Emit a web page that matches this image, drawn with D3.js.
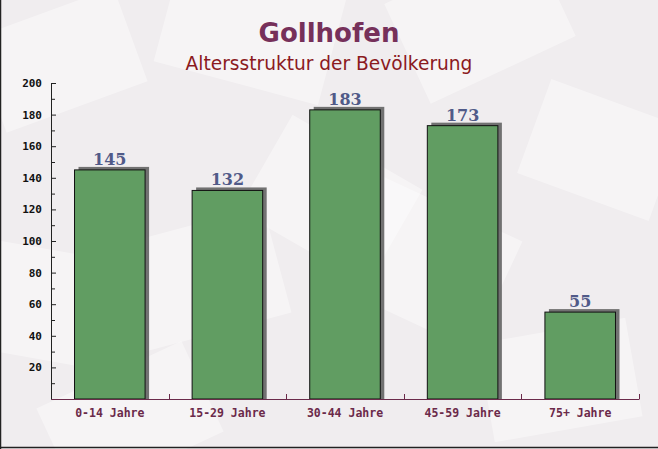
<!DOCTYPE html>
<html>
<head>
<meta charset="utf-8">
<script src="https://cdn.jsdelivr.net/npm/d3@7"></script>
<style>
  body { margin: 0; }
  svg { display: block; }
</style>
</head>
<body>
<div id="chart"></div>
<script>
const categories = ["0-14 Jahre", "15-29 Jahre", "30-44 Jahre", "45-59 Jahre", "75+ Jahre"]
const values = [145, 132, 183, 173, 55]
const yTicks = [20, 40, 60, 80, 100, 120, 140, 160, 180, 200]
const title = "Gollhofen"
const subtitle = "Altersstruktur der Bevölkerung"

const W = 658, H = 449
let margin = {top: 83, right: 19, bottom: 50, left: 51},
    width = W - margin.left - margin.right,
    height = H - margin.top - margin.bottom

let svg = d3.select("#chart")
            .append('svg')
            .attr('width', W)
            .attr('height', H)

// background with faint paper shapes
svg.append('rect').attr('width', W).attr('height', H).attr('fill', '#f0edef')
const deco = [[60, 60, -20, 150, 100], [250, 30, 15, 170, 110], [480, 20, -25, 160, 110],
              [600, 150, 20, 140, 100], [20, 300, 10, 150, 110], [200, 280, -15, 160, 110],
              [420, 260, 25, 170, 120], [560, 380, -10, 150, 100], [330, 200, 30, 150, 110],
              [130, 420, -25, 160, 100]]
deco.forEach(function(d) {
  svg.append('rect')
     .attr('x', -d[3] / 2).attr('y', -d[4] / 2)
     .attr('width', d[3]).attr('height', d[4])
     .attr('fill', '#ffffff').attr('opacity', 0.4)
     .attr('transform', "translate(" + d[0] + "," + d[1] + ") rotate(" + d[2] + ")")
})

svg.append('line').attr('x1', 0.5).attr('x2', 0.5).attr('y1', 0).attr('y2', H)
   .attr('stroke', '#222').attr('stroke-width', 1.5)
svg.append('line').attr('x1', 0).attr('x2', W).attr('y1', H - 1.5).attr('y2', H - 1.5)
   .attr('stroke', '#222').attr('stroke-width', 1.5)

svg.append('text')
   .attr('x', W / 2).attr('y', 42)
   .attr('text-anchor', 'middle')
   .attr('font-family', 'DejaVu Sans')
   .attr('font-weight', 'bold')
   .attr('font-size', 26)
   .attr('fill', '#76305a')
   .text(title)

svg.append('text')
   .attr('x', W / 2).attr('y', 70)
   .attr('text-anchor', 'middle')
   .attr('font-family', 'DejaVu Sans')
   .attr('font-size', 18.6)
   .attr('fill', '#8b1a1e')
   .text(subtitle)

let g = svg.append('g')
           .attr('transform', "translate(" + margin.left + "," + margin.top + ")")

let x = d3.scaleBand()
          .domain(categories)
          .range([0, width])
          .paddingInner(0.4)
          .paddingOuter(0.2)

let y = d3.scaleLinear()
          .domain([0, 200])
          .range([height, 0])

// shadows
g.selectAll('.shadow')
 .data(values)
 .enter().append('rect')
 .attr('x', function(d, i) { return x(categories[i]) + 4 })
 .attr('y', function(d) { return y(d) - 3 })
 .attr('width', x.bandwidth())
 .attr('height', function(d) { return height - y(d) + 3 })
 .attr('fill', '#5a5a5a')
 .attr('opacity', 0.85)

g.selectAll('.bar')
 .data(values)
 .enter().append('rect')
 .attr('x', function(d, i) { return x(categories[i]) })
 .attr('y', function(d) { return y(d) })
 .attr('width', x.bandwidth())
 .attr('height', function(d) { return height - y(d) })
 .attr('fill', '#619d62')
 .attr('stroke', '#111')
 .attr('stroke-width', 1)

g.selectAll('.val')
 .data(values)
 .enter().append('text')
 .attr('x', function(d, i) { return x(categories[i]) + x.bandwidth() / 2 })
 .attr('y', function(d) { return y(d) - 5 })
 .attr('text-anchor', 'middle')
 .attr('font-family', 'DejaVu Serif')
 .attr('font-weight', 'bold')
 .attr('font-size', 16)
 .attr('fill', '#505a88')
 .text(function(d) { return d })

// y axis
let yAxis = g.append('g')
             .call(d3.axisLeft(y)
                     .tickValues(yTicks)
                     .tickSize(-5)
                     .tickPadding(9))
yAxis.select('.domain').attr('stroke', '#222')
yAxis.selectAll('line').attr('stroke', '#222')
yAxis.selectAll('text')
     .attr('font-family', 'DejaVu Sans Mono')
     .attr('font-weight', 'bold')
     .attr('font-size', 11)
     .attr('fill', '#111')
yAxis.append('g')
     .selectAll('line')
     .data(d3.range(10, 200, 20))
     .enter().append('line')
     .attr('x1', 0).attr('x2', 4)
     .attr('y1', function(d) { return y(d) + 0.5 })
     .attr('y2', function(d) { return y(d) + 0.5 })
     .attr('stroke', '#222')

// x axis
let xAxis = g.append('g')
             .attr('transform', "translate(0," + height + ")")
             .call(d3.axisBottom(x).tickSize(0).tickPadding(10))
xAxis.select('.domain').attr('stroke', '#6b2a4a')
xAxis.selectAll('text')
     .attr('font-family', 'DejaVu Sans Mono')
     .attr('font-weight', 'bold')
     .attr('font-size', 11.5)
     .attr('fill', '#6b2a4a')
xAxis.append('g')
     .selectAll('line')
     .data(d3.range(1, categories.length + 1))
     .enter().append('line')
     .attr('x1', function(i) { return Math.round(x.step() * i) + 0.5 })
     .attr('x2', function(i) { return Math.round(x.step() * i) + 0.5 })
     .attr('y1', 0).attr('y2', -5)
     .attr('stroke', '#6b2a4a')
</script>
</body>
</html>
